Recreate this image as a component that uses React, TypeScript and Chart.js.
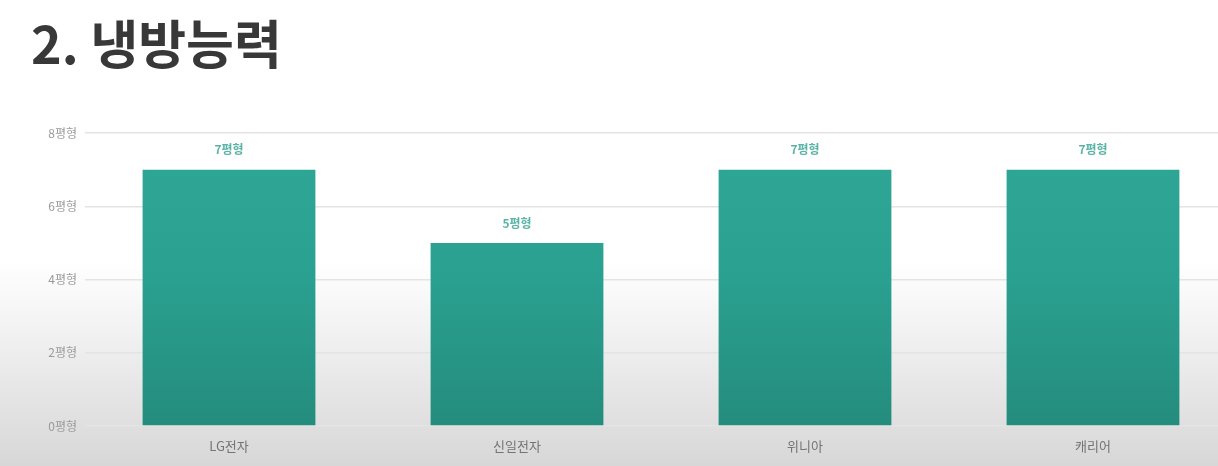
import React, { useEffect, useRef } from 'react';
import { Chart, registerables } from 'chart.js';

Chart.register(...registerables);

const BRANDS = ['LG전자', '신일전자', '위니아', '캐리어'];
const COOLING = [7, 5, 7, 7];
const Y_TICKS = [0, 2, 4, 6, 8];
const UNIT = '평형';

const FONT = '"Noto Sans CJK KR", "Noto Sans", sans-serif';

// draws "7평형" above each bar
const valueLabels = {
    id: 'valueLabels',
    afterDatasetsDraw(chart: Chart) {
        const { ctx } = chart;
        const meta = chart.getDatasetMeta(0);
        ctx.save();
        ctx.font = `600 12px ${FONT}`;
        ctx.fillStyle = '#5ab3a6';
        ctx.textAlign = 'center';
        ctx.textBaseline = 'middle';
        meta.data.forEach((bar: any, i: number) => {
            ctx.fillText(COOLING[i] + UNIT, bar.x, bar.y - 20);
        });
        ctx.restore();
    },
};

const CoolingChart: React.FC = () => {
    const chartRef = useRef<HTMLCanvasElement>(null);

    useEffect(() => {
        let chartInstance: Chart | undefined;
        const ctx = chartRef.current?.getContext('2d');
        if (ctx) {
            chartInstance = new Chart(ctx, {
                type: 'bar',
                data: {
                    labels: BRANDS,
                    datasets: [
                        {
                            data: COOLING,
                            backgroundColor: (c: any) => {
                                const area = c.chart.chartArea;
                                if (!area) return '#2aa393';
                                const g = c.chart.ctx.createLinearGradient(0, area.top, 0, area.bottom);
                                g.addColorStop(0, '#2fa797');
                                g.addColorStop(0.5, '#2aa090');
                                g.addColorStop(1, '#248c7d');
                                return g;
                            },
                            borderWidth: 0,
                            barPercentage: 0.6,
                            categoryPercentage: 1,
                        },
                    ],
                },
                options: {
                    responsive: true,
                    maintainAspectRatio: false,
                    animation: false,
                    layout: { padding: { top: 10, left: 0, right: 0, bottom: 0 } },
                    plugins: {
                        legend: { display: false },
                        tooltip: { enabled: false },
                    },
                    scales: {
                        x: {
                            grid: { display: false },
                            border: { display: false },
                            ticks: {
                                color: '#747474',
                                font: { family: FONT, size: 13 },
                                padding: 4,
                            },
                            afterFit: (scale: any) => {
                                scale.height = 30;
                            },
                        },
                        y: {
                            min: 0,
                            max: 8,
                            afterBuildTicks: (scale: any) => {
                                scale.ticks = Y_TICKS.map((v) => ({ value: v }));
                            },
                            grid: { color: '#e4e4e4', drawTicks: false, lineWidth: 1.5 },
                            border: { display: false },
                            ticks: {
                                color: '#9a9a9a',
                                font: { family: FONT, size: 12 },
                                padding: 8,
                                callback: (value: any) => value + UNIT,
                            },
                            afterFit: (scale: any) => {
                                scale.width = 85;
                            },
                        },
                    },
                },
                plugins: [valueLabels],
            });
        }
        return () => chartInstance?.destroy();
    }, []);

    return (
        <div style={{ position: 'absolute', left: 0, top: 118, width: 1237, height: 338 }}>
            <canvas ref={chartRef}></canvas>
        </div>
    );
};

const App: React.FC = () => {
    return (
        <div
            style={{
                position: 'fixed',
                left: 0,
                top: 0,
                width: 1218,
                height: 466,
                overflow: 'hidden',
                background: 'linear-gradient(to bottom, #ffffff 0%, #ffffff 56%, #efefef 74%, #d7d7d7 100%)',
                fontFamily: FONT,
            }}
        >
            <div
                style={{
                    position: 'absolute',
                    left: 31,
                    top: 11,
                    fontSize: 52,
                    fontWeight: 700,
                    lineHeight: 1.2,
                    color: '#383838',
                    whiteSpace: 'nowrap',
                }}
            >
                2. 냉방능력
            </div>
            <CoolingChart />
        </div>
    );
};

export default App;
